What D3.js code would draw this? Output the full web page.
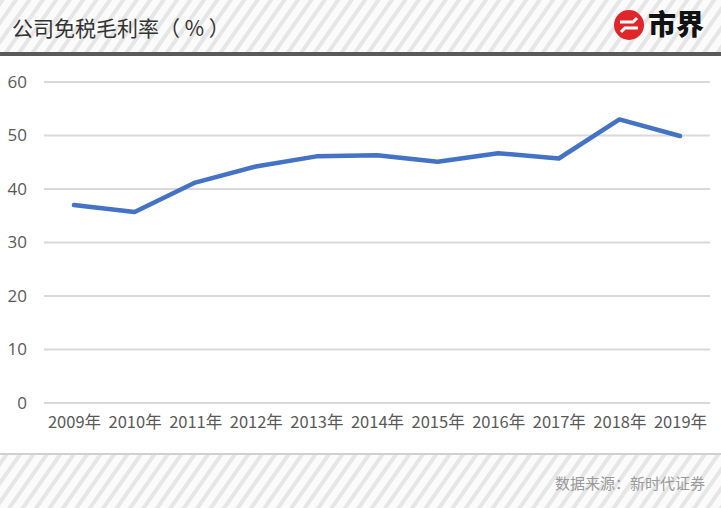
<!DOCTYPE html>
<html><head><meta charset="utf-8">
<script src="https://cdn.jsdelivr.net/npm/d3@7"></script>
<style>body{margin:0;background:#fff}svg{display:block}</style>
</head><body>
<script>
const categories = ["2009年","2010年","2011年","2012年","2013年","2014年","2015年","2016年","2017年","2018年","2019年"];
const values = [37.0, 35.7, 41.2, 44.2, 46.1, 46.3, 45.1, 46.7, 45.7, 53.0, 49.9];
const yTicks = [0,10,20,30,40,50,60];
const title = "公司免税毛利率（ % ）";
const source = "数据来源：新时代证券";

const W=721,H=508;
const svg=d3.select("body").append("svg").attr("width",W).attr("height",H);
const defs=svg.append("defs");
const pat=defs.append("pattern").attr("id","stripe").attr("patternUnits","userSpaceOnUse")
  .attr("width",11).attr("height",11).attr("patternTransform","rotate(35)");
pat.append("rect").attr("width",11).attr("height",11).attr("fill","#fbfbfb");
pat.append("rect").attr("width",4).attr("height",11).attr("fill","#e6e6e6");

svg.append("rect").attr("width",W).attr("height",53).attr("fill","url(#stripe)");
svg.append("rect").attr("y",52).attr("width",W).attr("height",4).attr("fill","#5a5a5a");
svg.append("rect").attr("y",455).attr("width",W).attr("height",53).attr("fill","url(#stripe)");
svg.append("rect").attr("y",453).attr("width",W).attr("height",2).attr("fill","#d0d0d0");

svg.append("text").attr("x",12).attr("y",36).attr("font-family","'Noto Sans CJK SC'")
  .attr("font-size",21).attr("fill","#333").text(title);

// logo
const lg=svg.append("g").attr("transform","translate(629,25)");
lg.append("circle").attr("r",15).attr("fill","#e0262b");
lg.append("path").attr("d","M-9,-3 L4,-3 L8,-7 M9,3 L-4,3 L-8,7").attr("stroke","#fff").attr("stroke-width",3).attr("fill","none");
lg.append("text").attr("x",19).attr("y",10).attr("font-family","'Noto Sans CJK SC'").attr("font-weight",900)
  .attr("font-size",28).attr("fill","#111").text("市界");

const x=d3.scalePoint().domain(categories).range([74,680]);
const y=d3.scaleLinear().domain([0,60]).range([403,82]);

const grid=svg.append("g");
grid.selectAll("line").data(yTicks).join("line")
  .attr("x1",44).attr("x2",710).attr("y1",d=>y(d)).attr("y2",d=>y(d))
  .attr("stroke","#d9d9d9").attr("stroke-width",2);

const yAxis=svg.append("g").attr("transform","translate(29,0)")
  .call(d3.axisLeft(y).tickValues(yTicks).tickSize(0).tickPadding(2));
yAxis.select(".domain").remove();
yAxis.selectAll("text").attr("font-family","'Open Sans', sans-serif").attr("font-size",17).attr("fill","#595959");

const xAxis=svg.append("g").attr("transform","translate(0,413)")
  .call(d3.axisBottom(x).tickSize(0).tickPadding(0));
xAxis.select(".domain").remove();
xAxis.selectAll("text").attr("font-family","'Noto Sans CJK SC'").attr("font-size",16.5).attr("fill","#595959").attr("dy","0.9em");

svg.append("path").datum(values)
  .attr("d",d3.line().x((d,i)=>x(categories[i])).y(d=>y(d)))
  .attr("fill","none").attr("stroke","#4472c4").attr("stroke-width",4.5).attr("stroke-linejoin","round").attr("stroke-linecap","round");

svg.append("text").attr("x",705).attr("y",489).attr("text-anchor","end")
  .attr("font-family","'Noto Sans CJK SC'").attr("font-size",15).attr("fill","#9a9a9a").text(source);
</script>
</body></html>
